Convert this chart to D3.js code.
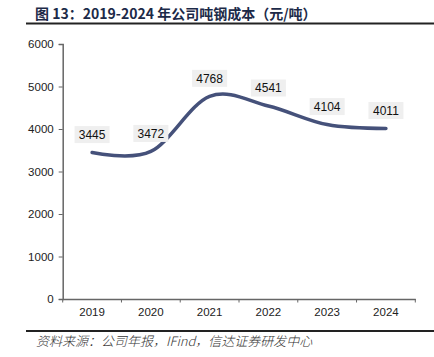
<!DOCTYPE html>
<html><head><meta charset="utf-8">
<script src="https://cdn.jsdelivr.net/npm/d3@7"></script>
<style>body{margin:0;background:#fff;}svg{display:block;}</style>
</head><body>
<svg id="c" width="434" height="357"></svg>
<script>
const categories = ["2019","2020","2021","2022","2023","2024"];
const values = [3445, 3472, 4768, 4541, 4104, 4011];
const yTicks = [0,1000,2000,3000,4000,5000,6000];
const titleText = "图 13：2019-2024 年公司吨钢成本（元/吨）";
const sourceText = "资料来源：公司年报，IFind，信达证券研发中心";

const svg = d3.select("#c");
const x = d3.scaleBand().domain(categories).range([62.7, 415.3]);
const y = d3.scaleLinear().domain([0,6000]).range([299, 44]);

// title
svg.append("text").attr("x",35).attr("y",18.5)
  .attr("font-family","'Noto Sans CJK SC', sans-serif").attr("font-weight","bold")
  .attr("font-size",14).attr("fill","#1c2a48").text(titleText);
svg.append("line").attr("x1",26).attr("x2",434).attr("y1",23.5).attr("y2",23.5)
  .attr("stroke","#222").attr("stroke-width",2);

// y axis
const ya = svg.append("g").attr("transform","translate(62.7,0)")
  .call(d3.axisLeft(y).tickValues(yTicks).tickSize(4).tickPadding(5).tickFormat(d3.format("d")));
ya.selectAll("text").attr("font-family","'Liberation Sans', Arial, sans-serif").attr("font-size",11.5).attr("fill","#222");
ya.select(".domain").attr("stroke","#666").attr("stroke-width",1.5);
ya.selectAll(".tick line").attr("stroke","#666");

// x axis
const xa = svg.append("g").attr("transform","translate(0,299)")
  .call(d3.axisBottom(x).tickSize(0).tickPadding(9).tickSizeOuter(0));
xa.selectAll("text").attr("font-family","'Liberation Sans', Arial, sans-serif").attr("font-size",11.5).attr("fill","#222");
xa.select(".domain").attr("stroke","#666").attr("stroke-width",1.5);
const bounds = categories.map(c => x(c)).concat([x.range()[1]]);
xa.selectAll(".btick").data(bounds).enter().append("line")
  .attr("x1",d=>d).attr("x2",d=>d).attr("y1",0).attr("y2",3.5).attr("stroke","#666");

// line
const cx = c => x(c) + x.bandwidth()/2;
const line = d3.line().x((d,i)=>cx(categories[i])).y(d=>y(d)).curve(d3.curveCardinal.tension(0));
svg.append("path").datum(values).attr("d",line).attr("fill","none")
  .attr("stroke","#45517a").attr("stroke-width",3.5).attr("stroke-linecap","round");

// labels
const lg = svg.selectAll(".lab").data(values).enter().append("g")
  .attr("transform",(d,i)=>`translate(${cx(categories[i])},${y(d)-18})`);
lg.append("rect").attr("x",-17.5).attr("y",-8.5).attr("width",35).attr("height",17).attr("fill","#efefef");
lg.append("text").attr("text-anchor","middle").attr("dy","0.36em")
  .attr("font-family","'Liberation Sans', Arial, sans-serif").attr("font-size",12).attr("fill","#111")
  .text(d=>d);

// source
svg.append("line").attr("x1",26).attr("x2",434).attr("y1",331).attr("y2",331)
  .attr("stroke","#222").attr("stroke-width",2);
svg.append("text").attr("x",36).attr("y",346)
  .attr("font-family","'Noto Sans CJK SC', sans-serif").attr("font-style","italic").attr("font-weight",300)
  .attr("font-size",13).attr("fill","#333").text(sourceText);
</script>
</body></html>
